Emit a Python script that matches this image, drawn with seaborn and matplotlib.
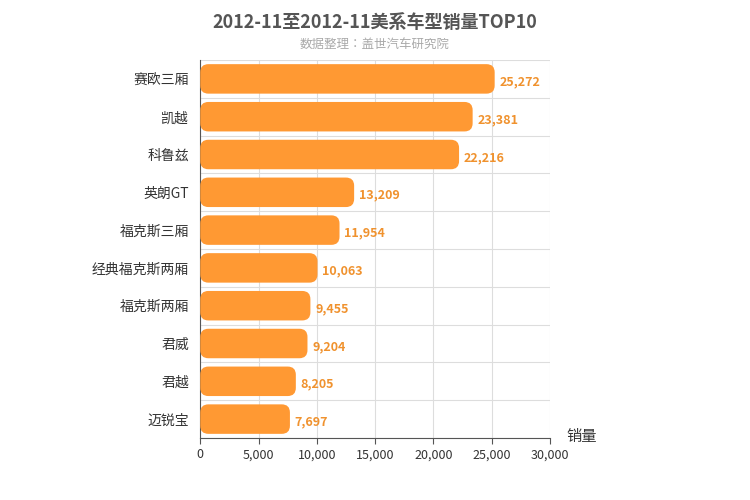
import matplotlib
matplotlib.use("Agg")
import matplotlib.pyplot as plt
from matplotlib import font_manager as fm
import seaborn as sns
import pandas as pd
import glob
from matplotlib.patches import FancyBboxPatch

models = ["赛欧三厢", "凯越", "科鲁兹", "英朗GT", "福克斯三厢", "经典福克斯两厢", "福克斯两厢", "君威", "君越", "迈锐宝"]
sales = [25272, 23381, 22216, 13209, 11954, 10063, 9455, 9204, 8205, 7697]
xticks = [0, 5000, 10000, 15000, 20000, 25000, 30000]

fam = ["Noto Sans CJK SC", "Noto Sans CJK JP", "DejaVu Sans"]
for pat in ["/usr/share/fonts/**/*CJK*", "/usr/local/share/fonts/**/*CJK*", "/usr/share/fonts/**/*cjk*"]:
    for f in glob.glob(pat, recursive=True):
        if f.lower().endswith((".ttc", ".otf", ".ttf")):
            try:
                fm.fontManager.addfont(f)
            except Exception:
                pass
names = {f.name for f in fm.fontManager.ttflist}
cjk = [n for n in names if "CJK" in n and "SC" in n] + [n for n in names if "CJK" in n]
if cjk:
    fam = [cjk[0], "DejaVu Sans"]
plt.rcParams["font.family"] = "sans-serif"
plt.rcParams["font.sans-serif"] = fam

df = pd.DataFrame({"model": models, "sales": sales})
fig = plt.figure(figsize=(7.5, 5), dpi=100)
ax = fig.add_axes([0.267, 0.124, 0.466, 0.756])
sns.barplot(data=df, x="sales", y="model", color="#FF9933", width=0.78, ax=ax)
ax.set_xlim(0, 30000)
ax.set_ylim(9.5, -0.5)

aspect = (10 / 378) / (30000 / 350)
for p in list(ax.patches):
    x, y, w, h = p.get_x(), p.get_y(), p.get_width(), p.get_height()
    p.remove()
    ax.add_patch(FancyBboxPatch((x, y), w, h, boxstyle="round,pad=0,rounding_size=700",
                                mutation_aspect=aspect, fc="#FF9933", ec="none", zorder=3))
for i, v in enumerate(sales):
    ax.text(v + 400, i + 0.08, f"{v:,}", va="center", ha="left", color="#F0922E",
            fontsize=9, fontweight="bold")

ax.set_xticks(xticks)
ax.set_xticklabels([f"{t:,}" for t in xticks], fontsize=9, color="#333")
ax.set_yticks(range(10))
ax.set_yticklabels(models, fontsize=10, color="#333")
ax.set_yticks([i + 0.5 for i in range(-1, 10)], minor=True)
ax.grid(False)
ax.grid(True, which="minor", axis="y", color="#dddddd", lw=0.8, zorder=0)
ax.grid(True, which="major", axis="x", color="#dddddd", lw=0.8, zorder=0)
ax.set_axisbelow(True)
ax.tick_params(axis="y", which="both", length=0, pad=8)
ax.tick_params(axis="x", length=4, color="#555")
for s in ["top", "right"]:
    ax.spines[s].set_visible(False)
for s in ["left", "bottom"]:
    ax.spines[s].set_color("#555")
ax.set_xlabel("")
ax.set_ylabel("")
fig.text(0.755, 0.118, "销量", fontsize=11, color="#333")
fig.text(0.5, 0.955, "2012-11至2012-11美系车型销量TOP10", ha="center", va="center",
         fontsize=13, fontweight="bold", color="#555")
fig.text(0.5, 0.912, "数据整理：盖世汽车研究院", ha="center", va="center", fontsize=9, color="#aaa")
fig.savefig("out.png", dpi=100)
